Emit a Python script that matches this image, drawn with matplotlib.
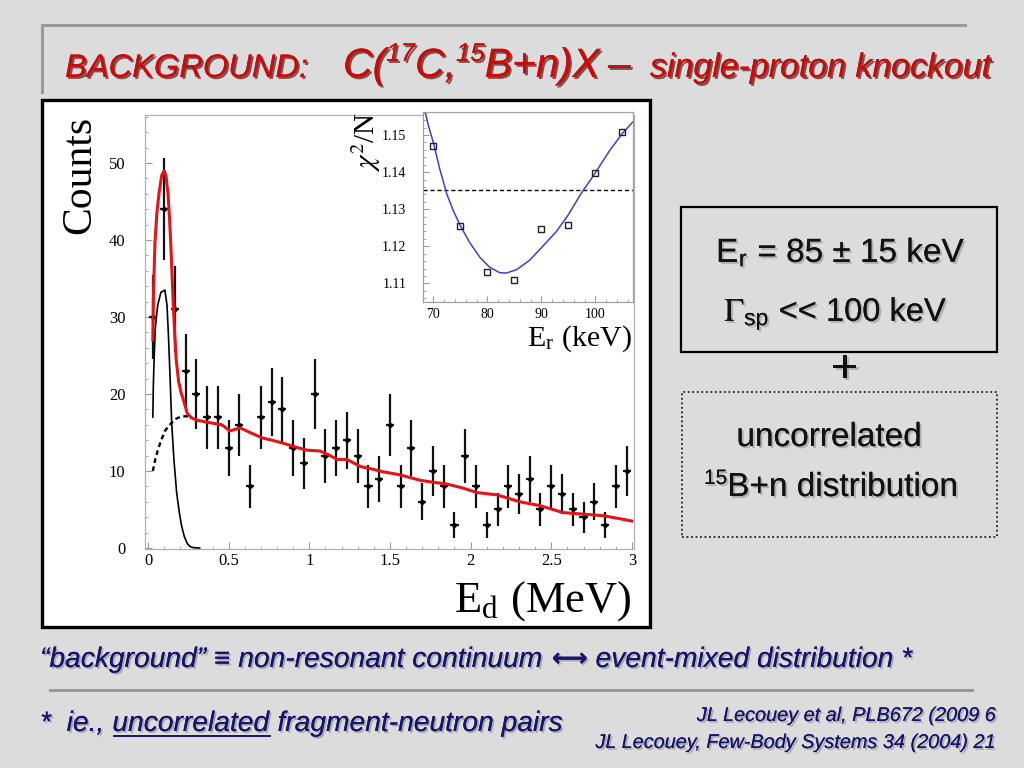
import matplotlib
matplotlib.use("Agg")
import matplotlib.pyplot as plt
import matplotlib.patheffects as pe
from matplotlib.patches import Rectangle
from matplotlib.lines import Line2D
from matplotlib.ticker import MultipleLocator

# ---------------- data ----------------
E_centers = [0.033, 0.1, 0.167, 0.233, 0.3, 0.367, 0.433, 0.5, 0.567, 0.633,
             0.7, 0.767, 0.833, 0.9, 0.967, 1.033, 1.1, 1.167, 1.233, 1.3,
             1.367, 1.433, 1.5, 1.567, 1.633, 1.7, 1.767, 1.833, 1.9, 1.967,
             2.033, 2.1, 2.167, 2.233, 2.3, 2.367, 2.433, 2.5, 2.567, 2.633,
             2.7, 2.767, 2.833, 2.9, 2.967]
counts = [30, 44, 31, 23, 20, 17, 17, 13, 16, 8, 17, 19, 18, 13, 11, 20, 12, 13, 14, 12,
          8, 9, 16, 8, 13, 6, 10, 8, 3, 12, 8, 3, 5, 8, 7, 9, 5, 8, 7, 5,
          4, 6, 3, 8, 10]
count_err = [5.5, 6.6, 5.6, 4.8, 4.5, 4.1, 4.1, 3.6, 4.0, 2.8, 4.1, 4.4, 4.2, 3.6, 3.3,
             4.5, 3.5, 3.6, 3.7, 3.5, 2.8, 3.0, 4.0, 2.8, 3.6, 2.4, 3.2, 2.8, 1.7, 3.5,
             2.8, 1.7, 2.2, 2.8, 2.6, 3.0, 2.2, 2.8, 2.6, 2.2, 2.0, 2.4, 1.7, 2.8, 3.2]
E_halfwidth = 0.025

total_E = [0.03, 0.034, 0.043, 0.055, 0.068, 0.085, 0.1, 0.112, 0.124, 0.133, 0.141,
           0.149, 0.157, 0.165, 0.175, 0.19, 0.205, 0.22, 0.243, 0.27, 0.304, 0.35,
           0.403, 0.459, 0.508, 0.571, 0.633, 0.707, 0.769, 0.84, 0.899, 0.986, 1.066,
           1.12, 1.172, 1.234, 1.314, 1.38, 1.457, 1.562, 1.686, 1.748, 1.853, 1.95,
           2.04, 2.163, 2.306, 2.43, 2.573, 2.697, 2.821, 2.926, 3.0]
total_y = [27, 33, 39.6, 43.5, 46, 48.4, 49, 48.3, 46, 43, 39.6,
           35.5, 31.5, 28, 24.4, 21.6, 20.2, 19.2, 17.5, 16.9, 16.6, 16.4,
           16.2, 16.0, 15.2, 15.6, 15.0, 14.3, 14.0, 13.6, 13.2, 12.7, 12.6,
           12.1, 11.5, 11.5, 10.6, 10.3, 9.9, 9.5, 8.8, 8.6, 8.3, 7.8,
           7.2, 6.9, 6.0, 5.5, 4.6, 4.4, 4.2, 3.8, 3.5]

res_E = [0.03, 0.033, 0.037, 0.045, 0.06, 0.08, 0.105, 0.118, 0.128, 0.138, 0.147,
         0.161, 0.178, 0.195, 0.209, 0.225, 0.243, 0.26, 0.28, 0.32]
res_y = [17, 21, 24, 28.5, 31.5, 33.2, 33.5, 31.5, 27, 21.5, 16.2,
         11.4, 7.1, 4.5, 2.8, 1.5, 0.6, 0.2, 0.05, 0.0]

bg_E = [0.03, 0.045, 0.062, 0.08, 0.105, 0.13, 0.149, 0.175, 0.198, 0.225, 0.248]
bg_y = [10, 11.5, 12.8, 13.9, 15.2, 15.9, 16.3, 16.8, 17.0, 17.1, 17.1]

# inset: chi2/N vs E_r
Er_pts = [70, 75, 80, 85, 90, 95, 100, 105]
chi2_pts = [1.1470, 1.1255, 1.1130, 1.1109, 1.1246, 1.1257, 1.1397, 1.1507]
Er_fit = [68.5, 69.1, 70, 71.2, 72.5, 73.7, 75.0, 76.7, 78.6, 80.4, 82.3, 83.5,
          85.4, 87.8, 90, 92.8, 95, 97.4, 99.9, 102.7, 105, 107]
chi2_fit = [1.1561, 1.1525, 1.1480, 1.1408, 1.1341, 1.1296, 1.1256, 1.1211, 1.1171,
            1.1144, 1.1129, 1.1128, 1.1137, 1.1162, 1.1196, 1.1240, 1.1285, 1.1343,
            1.1396, 1.1459, 1.1504, 1.1536]
chi2_limit = 1.1351

main_xticks = [0, 0.5, 1, 1.5, 2, 2.5, 3]
main_xticklabels = ["0", "0.5", "1", "1.5", "2", "2.5", "3"]
main_yticks = [0, 10, 20, 30, 40, 50]
inset_xticks = [70, 80, 90, 100]
inset_yticks = [1.11, 1.12, 1.13, 1.14, 1.15]

# ---------------- figure ----------------
W, H = 1024, 768
plt.rcParams['mathtext.fontset'] = 'stix'
fig = plt.figure(figsize=(W / 100, H / 100), dpi=100, facecolor='#dcdcdc')
renderer = fig.canvas.get_renderer()

def fx(px):
    return px / W

def fy(py):
    return 1 - py / H

def rect_px(x0, y0, x1, y1):
    return [fx(x0), fy(y1), (x1 - x0) / W, (y1 - y0) / H]

def hline(x0, x1, y, **kw):
    fig.add_artist(Line2D([fx(x0), fx(x1)], [fy(y), fy(y)], transform=fig.transFigure, **kw))

def vline(x, y0, y1, **kw):
    fig.add_artist(Line2D([fx(x), fx(x)], [fy(y0), fy(y1)], transform=fig.transFigure, **kw))

# decorative slide lines
hline(42, 965, 25, color='#9a9a9a', lw=2.2)
vline(42, 25, 92, color='#9a9a9a', lw=2.2)
hline(50, 972, 690, color='#9a9a9a', lw=2.2)

# white panel (behind the axes)
fig.add_artist(Rectangle((fx(42), fy(627)), (650 - 42) / W, (627 - 100) / H,
                         transform=fig.transFigure, facecolor='white',
                         edgecolor='none', zorder=-5))
fig.add_artist(Rectangle((fx(42), fy(627)), (650 - 42) / W, (627 - 100) / H,
                         transform=fig.transFigure, facecolor='none',
                         edgecolor='black', lw=2.4, zorder=10))

SERIF = 'Liberation Serif'
SANS = ['Liberation Sans', 'DejaVu Sans']

# ---------------- main axes ----------------
ax = fig.add_axes(rect_px(145, 115, 634, 549))
ax.set_zorder(1)
ax.set_facecolor('white')
ax.set_xlim(-0.0186, 3.013)
ax.set_ylim(-0.13, 56.23)
for sp in ax.spines.values():
    sp.set_color('#b0b0b0')
    sp.set_linewidth(0.9)
ax.set_xticks(main_xticks)
ax.set_xticklabels(main_xticklabels)
ax.set_yticks(main_yticks)
ax.xaxis.set_minor_locator(MultipleLocator(0.1))
ax.yaxis.set_minor_locator(MultipleLocator(2))
ax.tick_params(which='both', direction='in', color='#999999', top=False, right=False)
ax.tick_params(which='major', length=5, width=0.8)
ax.tick_params(which='minor', length=2.5, width=0.6)
ax.tick_params(axis='y', pad=14, labelsize=12)
ax.tick_params(axis='x', pad=3, labelsize=12)
for lab in ax.get_xticklabels() + ax.get_yticklabels():
    lab.set_fontfamily(SERIF)

ax.plot(bg_E, bg_y, color='black', lw=1.7, ls=(0, (2, 1.5)), zorder=3)
ax.plot(res_E, res_y, color='black', lw=1.2, zorder=3)
ax.errorbar(E_centers, counts, yerr=count_err, xerr=E_halfwidth, fmt='o', ms=2.5,
            color='black', ecolor='#111111', elinewidth=1.6, capsize=0, zorder=4)
ax.plot(total_E, total_y, color='#e3151b', lw=2.2, zorder=5)

fig.text(fx(80), fy(175), 'Counts', rotation=90, ha='center', va='center',
         fontsize=30, family=SERIF, zorder=11)
fig.text(fx(632), fy(612), r'E$_{\mathregular{d}}$ (MeV)', ha='right', va='baseline',
         fontsize=32, family=SERIF, zorder=11)

# ---------------- inset ----------------
ins = fig.add_axes(rect_px(423, 112, 633, 302))
ins.set_zorder(2)
ins.set_facecolor('white')
ins.set_xlim(68.09, 106.98)
ins.set_ylim(1.1050, 1.1562)
for sp in ins.spines.values():
    sp.set_color('#a0a0a0')
    sp.set_linewidth(0.9)
ins.set_xticks(inset_xticks)
ins.set_yticks(inset_yticks)
ins.set_yticklabels([f"{v:.2f}" for v in inset_yticks])
ins.xaxis.set_minor_locator(MultipleLocator(2))
ins.yaxis.set_minor_locator(MultipleLocator(0.002))
ins.tick_params(which='both', direction='in', color='#999999', top=False, right=False)
ins.tick_params(which='major', length=4, width=0.8)
ins.tick_params(which='minor', length=2, width=0.6)
ins.tick_params(axis='y', pad=12, labelsize=10)
ins.tick_params(axis='x', pad=4, labelsize=10)
for lab in ins.get_xticklabels() + ins.get_yticklabels():
    lab.set_fontfamily(SERIF)
ins.axhline(chi2_limit, color='black', lw=1.0, ls=(0, (3, 2)))
ins.plot(Er_fit, chi2_fit, color='#4040cc', lw=1.1)
ins.plot(Er_pts, chi2_pts, 's', ms=5, mfc='none', mec='#222222', mew=1.0)

fig.text(fx(366), fy(142), r'$\chi^{2}$/N', rotation=90, ha='center', va='center',
         fontsize=21, family=SERIF, zorder=11)
fig.text(fx(632), fy(346), r'E$_{\mathregular{r}}$ (keV)', ha='right', va='baseline',
         fontsize=21.5, family=SERIF, zorder=11)

# ---------------- title ----------------
RED = '#cc0a0a'
title_fx = [pe.withSimplePatchShadow(offset=(1.4, -1.4), shadow_rgbFace='#2a0000', alpha=0.6),
            pe.Normal()]

def seq(x, y, pieces, color, effects, family, style='italic', weight='normal'):
    arts = []
    for piece in pieces:
        s, size, dy = piece[:3]
        fam = piece[3] if len(piece) > 3 else family
        wt = piece[4] if len(piece) > 4 else weight
        t = fig.text(fx(x), fy(y - dy), s, fontsize=size, color=color, family=fam,
                     style=style, weight=wt, ha='left', va='baseline',
                     path_effects=effects)
        w = t.get_window_extent(renderer).width
        arts.append((t, x, w))
        x += w
    return arts, x

seq(65, 77, [('BACKGROUND:', 23.5, 0)], RED, title_fx, SANS)
seq(343, 77, [('C(', 29.5, 0), ('17', 18.5, 16), ('C,', 29.5, 0), ('15', 18.5, 16),
              ('B+n)X', 29.5, 0)], RED, title_fx, SANS)
seq(608, 77, [('–', 29.5, 0)], RED, title_fx, SANS)
seq(650, 77, [('single-proton knockout', 24.4, 0)], RED, title_fx, SANS)

# ---------------- right boxes ----------------
fig.add_artist(Rectangle((fx(681), fy(352)), (997 - 681) / W, (352 - 207) / H,
                         transform=fig.transFigure, facecolor='none',
                         edgecolor='black', lw=1.6))
fig.add_artist(Rectangle((fx(682), fy(537)), (997 - 682) / W, (537 - 392) / H,
                         transform=fig.transFigure, facecolor='none',
                         edgecolor='#222222', lw=1.3, ls=(0, (1, 1.5))))

box_fx = [pe.withSimplePatchShadow(offset=(1.5, -1.5), shadow_rgbFace='#888888', alpha=0.5),
          pe.Normal()]
fig.text(fx(841), fy(262), r'E$_{\mathregular{r}}$ = 85 ± 15 keV', ha='center', va='baseline',
         fontsize=24, family=SANS, color='#111111', path_effects=box_fx)
fig.text(fx(836), fy(321), r'$\Gamma_{\mathregular{sp}}$ << 100 keV', ha='center',
         va='baseline', fontsize=23.5, family=SANS, color='#111111', path_effects=box_fx)
fig.text(fx(845), fy(370), '+', ha='center', va='center', fontsize=34, family=SANS,
         color='#111111', path_effects=box_fx)
fig.text(fx(829), fy(446), 'uncorrelated', ha='center', va='baseline', fontsize=24,
         family=SANS, color='#111111', path_effects=box_fx)
seq(704, 496, [('15', 15, 12), ('B+n distribution', 24, 0)], '#111111', box_fx, SANS,
    style='normal')

# ---------------- bottom texts ----------------
NAVY = '#14146e'
low_fx = [pe.withSimplePatchShadow(offset=(1.3, -1.3), shadow_rgbFace='#777777', alpha=0.5),
          pe.Normal()]
seq(40, 667, [('“background” ≡ non-resonant continuum ', 20.3, 0),
              ('⟷', 18, 1, ['DejaVu Sans'], 'bold'),
              (' event-mixed distribution *', 20.3, 0)], NAVY, low_fx, SANS)

arts, _ = seq(40, 731, [('*  ie., ', 20.3, 0), ('uncorrelated', 20.3, 0),
                        (' fragment-neutron pairs', 20.3, 0)], NAVY, low_fx, SANS)
t_u, xu, wu = arts[1]
hline(xu + 2, xu + wu, 736, color=NAVY, lw=1.4)

fig.text(fx(995), fy(721), 'JL Lecouey et al, PLB672 (2009 6', ha='right', va='baseline',
         fontsize=14.3, family=SANS, style='italic', color=NAVY, path_effects=low_fx)
fig.text(fx(995), fy(748), 'JL Lecouey, Few-Body Systems 34 (2004) 21', ha='right',
         va='baseline', fontsize=14.3, family=SANS, style='italic', color=NAVY,
         path_effects=low_fx)

fig.savefig('out.png', dpi=100, facecolor=fig.get_facecolor())
